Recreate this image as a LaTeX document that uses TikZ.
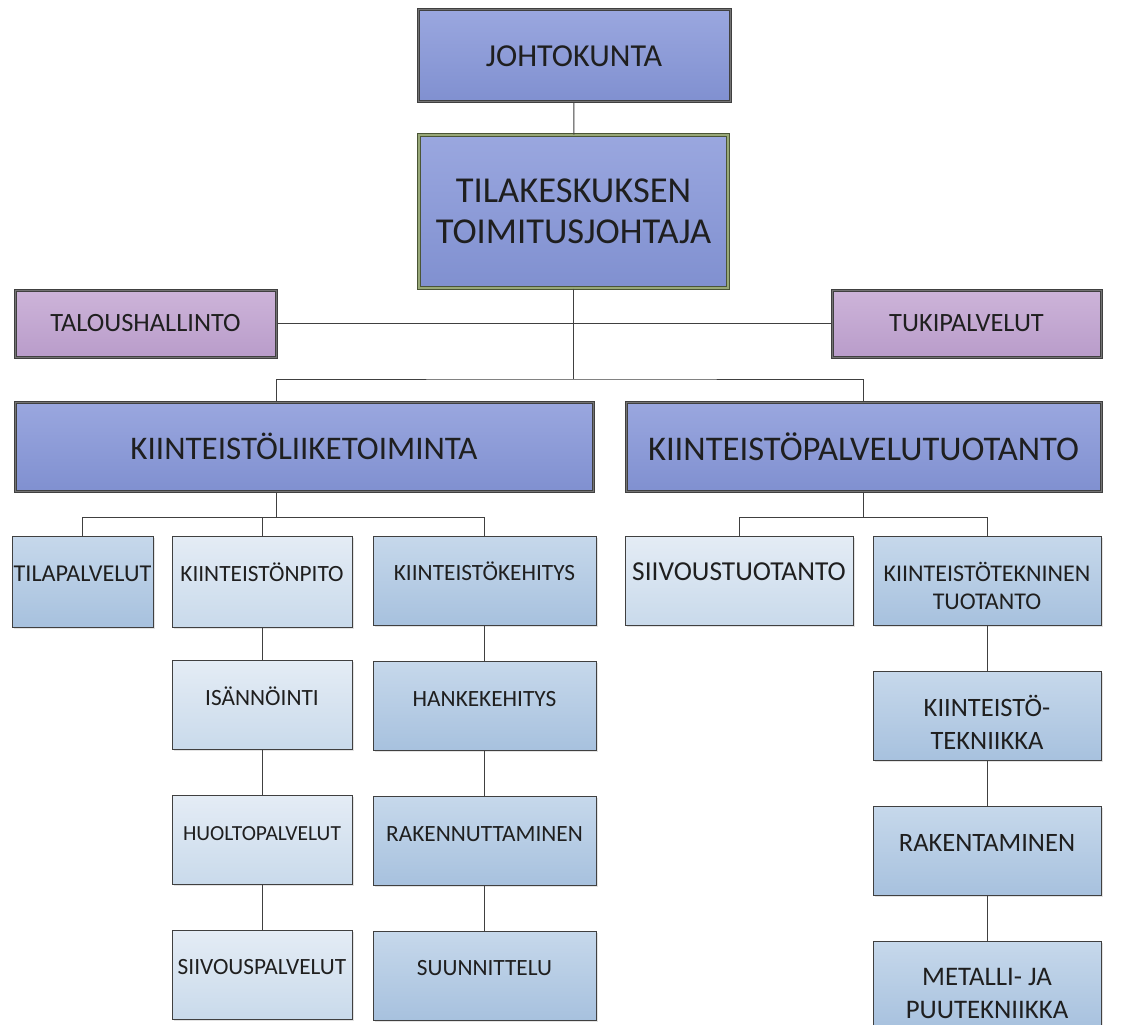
\documentclass[tikz,border=0pt]{standalone}
\usepackage{fontspec}
\setmainfont{Carlito}
\usetikzlibrary{positioning, shadows}

\definecolor{mainTop}{HTML}{9AA7DF}
\definecolor{mainBot}{HTML}{8090D0}
\definecolor{sideTop}{HTML}{CDB4D9}
\definecolor{sideBot}{HTML}{B99CCA}
\definecolor{unitTop}{HTML}{C6D8EB}
\definecolor{unitBot}{HTML}{A7C1DE}
\definecolor{paleTop}{HTML}{E4ECF5}
\definecolor{paleBot}{HTML}{C9DAEB}
\definecolor{edgeGray}{HTML}{404040}
\definecolor{ceoEdge}{HTML}{4A5536}
\definecolor{ceoMid}{HTML}{98A878}

\begin{document}
\begin{tikzpicture}[
  x=1pt, y=-1pt,
  node distance=45pt,
  fs/.style 2 args={font=\fontsize{#1pt}{#2pt}\selectfont},
  box/.style={
    rectangle, draw=edgeGray, line width=0.8pt, inner sep=0pt,
    text=black!88, align=center,
    drop shadow={opacity=0.22, shadow xshift=1.5pt, shadow yshift=-1.5pt}
  },
  topbox/.style={
    box, line width=1pt, double=black!55, double distance=1pt,
    top color=mainTop, bottom color=mainBot
  },
  ceobox/.style={
    topbox, draw=ceoEdge, double=ceoMid, double distance=1.6pt
  },
  sidebox/.style={
    box, line width=1pt, double=black!55, double distance=1pt,
    top color=sideTop, bottom color=sideBot,
    minimum height=67pt, fs={26.4}{31}
  },
  unit/.style={
    box, minimum height=89pt,
    text height=30pt, text depth=30pt, fs={23.3}{28}
  },
  twoline/.style={text height=#1, text depth=0pt},
  midunit/.style={unit, top color=unitTop, bottom color=unitBot},
  paleunit/.style={unit, top color=paleTop, bottom color=paleBot},
  link/.style={draw=edgeGray, line width=1pt}
]
\useasboundingbox[fill=white] (0,0) rectangle (1144,1025);

% top of the tree
\node[topbox, minimum width=312pt, minimum height=92pt, fs={32}{37}] (johto) at (574,56) {JOHTOKUNTA};
\node[ceobox, minimum width=309pt, minimum height=153pt, fs={36.5}{41}] (tilak) at (573.5,211.5)
  {TILAKESKUKSEN\\TOIMITUSJOHTAJA};
\node[sidebox, minimum width=261pt] (talous) at (145.5,323.5) {TALOUSHALLINTO};
\node[sidebox, minimum width=269pt] (tuki) at (966.5,323.5) {TUKIPALVELUT};

% two business areas
\node[topbox, minimum width=578pt, minimum height=89pt, fs={33}{38}] (kl) at (304,446.5) {KIINTEISTÖLIIKETOIMINTA};
\node[topbox, minimum width=475pt, minimum height=89pt, fs={34.6}{40}] (kp) at (863.5,446.5) {KIINTEISTÖPALVELUTUOTANTO};

% kiinteistöliiketoiminta units
\node[midunit, minimum width=141pt, minimum height=91pt, fs={24.2}{29}] (tilap) at (82.5,581.5) {TILAPALVELUT};
\node[paleunit, minimum width=180pt, minimum height=91pt] (npito) at (262,581.5) {KIINTEISTÖNPITO};
\node[paleunit, minimum width=180pt, below=33pt of npito] (isann) {ISÄNNÖINTI};
\node[paleunit, minimum width=180pt, below=of isann, fs={21.5}{26}] (huolto) {HUOLTOPALVELUT};
\node[paleunit, minimum width=180pt, below=of huolto] (siivp) {SIIVOUSPALVELUT};
\node[midunit, minimum width=223pt] (keh) at (484.5,580.5) {KIINTEISTÖKEHITYS};
\node[midunit, minimum width=223pt, below=36pt of keh] (hanke) {HANKEKEHITYS};
\node[midunit, minimum width=223pt, below=of hanke] (rakennut) {RAKENNUTTAMINEN};
\node[midunit, minimum width=223pt, below=of rakennut] (suunn) {SUUNNITTELU};

% kiinteistöpalvelutuotanto units
\node[paleunit, minimum width=228pt, fs={27.4}{32}] (siivt) at (739,580.5) {SIIVOUSTUOTANTO};
\node[midunit, minimum width=228pt, fs={24}{28}, twoline=58pt] (tekn) at (987,580.5) {KIINTEISTÖTEKNINEN\\TUOTANTO};
\node[midunit, minimum width=228pt, below=46pt of tekn, fs={26.5}{33}, twoline=66pt] (ktekn) {KIINTEISTÖ-\\TEKNIIKKA};
\node[midunit, minimum width=228pt, below=of ktekn, fs={26.5}{31}] (rakent) {RAKENTAMINEN};
\node[midunit, minimum width=228pt, below=of rakent, fs={26.8}{33}, twoline=66pt] (metalli) {METALLI- JA\\PUUTEKNIIKKA};

% junctions
\coordinate (hub) at (573,379);
\coordinate (klfork) at (276,517);
\coordinate (kpfork) at (864,517);

\draw[link] (johto) -- (tilak);
\draw[link] (talous) -- (tuki);
\draw[link] (tilak) -- (tilak.south |- hub);
\draw[link] (kl.north -| klfork) |- (hub) -| (kp);
\draw[link] (kl.south -| klfork) -- (klfork);
\draw[link] (tilap) |- (keh.north |- klfork) -- (keh);
\draw[link] (npito) -- (npito.north |- klfork);
\draw[link] (kp) -- (kp.south |- kpfork);
\draw[link] (siivt) |- (tekn.north |- kpfork) -- (tekn);
\foreach \a/\b in {npito/isann, isann/huolto, huolto/siivp,
                   keh/hanke, hanke/rakennut, rakennut/suunn,
                   tekn/ktekn, ktekn/rakent, rakent/metalli}
  \draw[link] (\a) -- (\b);

\end{tikzpicture}
\end{document}
